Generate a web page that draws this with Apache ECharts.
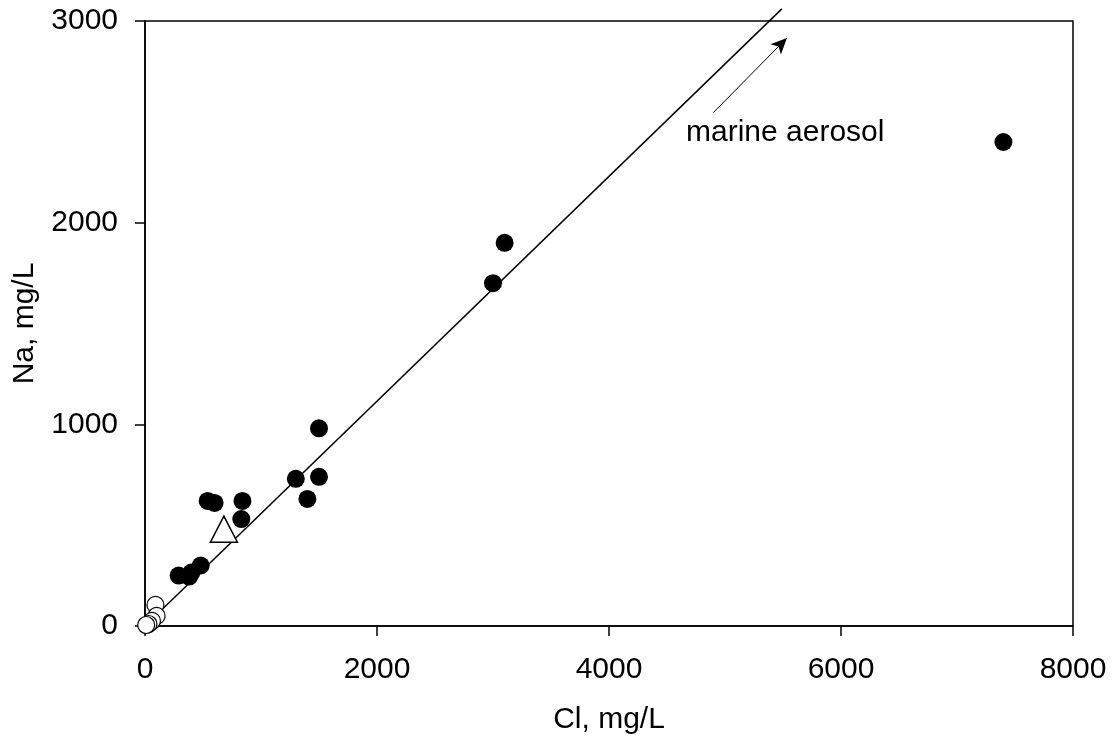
<!DOCTYPE html>
<html><head><meta charset="utf-8">
<script src="https://cdn.jsdelivr.net/npm/echarts@6/dist/echarts.min.js"></script>
<style>html,body{margin:0;padding:0;background:#fff}#c{width:1113px;height:740px}</style>
</head><body><div id="c"></div>
<script>
// Data (Cl, Na in mg/L)
const filledPoints = [
  [7400, 2400], [3100, 1900], [3000, 1700], [1500, 980], [1500, 740], [1300, 730], [1400, 630],
  [540, 620], [600, 610], [840, 620], [830, 530], [290, 250], [380, 245], [400, 265], [480, 300]
];
const openCircles = [[90, 105], [100, 50], [60, 25], [30, 10], [10, 5]];
const triangles = [[680, 480]];
const seawaterLine = [[0, 0], [5490, 3060]];
const arrowStart = [4900, 2546];
const arrowEnd = [5534, 2916];
const annotation = { text: 'marine aerosol', at: [4664, 2447] };
const xTicks = [0, 8000, 2000];
const yTicks = [0, 3000, 1000];

const font = 'Liberation Sans, Arial, sans-serif';
const chart = echarts.init(document.getElementById('c'));
chart.setOption({
  animation: false,
  backgroundColor: '#fff',
  grid: { left: 145, top: 21, right: 40, bottom: 113, show: true, borderColor: '#000', borderWidth: 1.5, backgroundColor: 'transparent' },
  xAxis: {
    type: 'value', min: xTicks[0], max: xTicks[1], interval: xTicks[2],
    name: 'Cl, mg/L', nameLocation: 'middle', nameGap: 79,
    nameTextStyle: { fontSize: 30, color: '#000', fontFamily: font },
    axisLine: { show: true, lineStyle: { color: '#000', width: 1.5 } },
    axisTick: { show: true, inside: false, length: 10, lineStyle: { color: '#000', width: 1.5 } },
    axisLabel: { fontSize: 30, color: '#000', fontFamily: font, margin: 29, formatter: v => String(v) },
    splitLine: { show: false }
  },
  yAxis: {
    type: 'value', min: yTicks[0], max: yTicks[1], interval: yTicks[2],
    name: 'Na, mg/L', nameLocation: 'middle', nameGap: 105,
    nameTextStyle: { fontSize: 30, color: '#000', fontFamily: font },
    axisLine: { show: true, lineStyle: { color: '#000', width: 1.5 } },
    axisTick: { show: true, inside: false, length: 10, lineStyle: { color: '#000', width: 1.5 } },
    axisLabel: { fontSize: 30, color: '#000', fontFamily: font, margin: 27, formatter: v => String(v) },
    splitLine: { show: false }
  },
  series: [
    {
      type: 'line', data: seawaterLine, symbol: 'none', clip: false,
      lineStyle: { color: '#000', width: 1.5 }, z: 1,
      markLine: {
        silent: true, symbol: ['none', 'arrow'], symbolSize: [11, 16],
        lineStyle: { color: '#000', width: 1, type: 'solid' },
        label: { show: false },
        data: [[{ coord: arrowStart }, { coord: arrowEnd }]]
      }
    },
    {
      type: 'scatter', data: filledPoints, symbol: 'circle', symbolSize: 18,
      itemStyle: { color: '#000', opacity: 1 }, z: 3
    },
    {
      type: 'scatter', data: openCircles, symbol: 'circle', symbolSize: 17,
      itemStyle: { color: '#fff', borderColor: '#000', borderWidth: 1.2, opacity: 1 }, z: 3
    },
    {
      type: 'scatter', data: triangles, symbol: 'triangle', symbolSize: [27, 26],
      itemStyle: { color: '#fff', borderColor: '#000', borderWidth: 1.5, opacity: 1 }, z: 4
    },
    {
      type: 'scatter', data: [annotation.at], symbolSize: 0, silent: true,
      itemStyle: { opacity: 1 },
      label: { show: true, position: 'right', distance: 0, formatter: annotation.text, fontSize: 30, color: '#000', fontFamily: font }
    }
  ]
});
</script></body></html>
